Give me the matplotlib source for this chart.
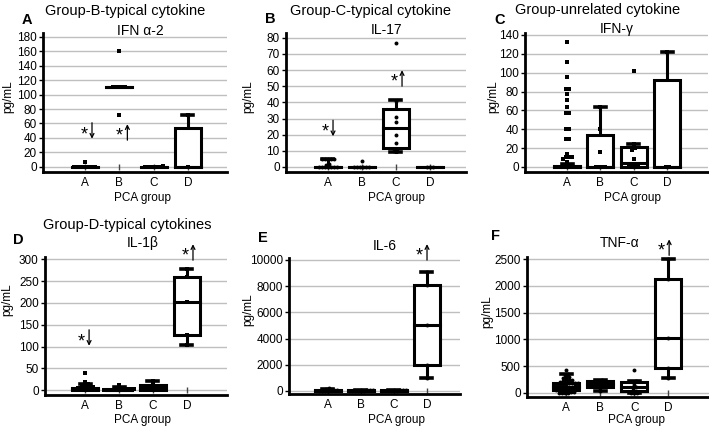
import matplotlib
matplotlib.use('Agg')
import matplotlib.pyplot as plt
from matplotlib.patches import Rectangle
import numpy as np

plt.rcParams['font.family'] = ['Liberation Sans', 'DejaVu Sans']

W, H = 709, 428

cats = ['A', 'B', 'C', 'D']

# box stats per PCA group: whisker low, Q1, median, Q3, whisker high
ifna2_box = [[0, 0, 0, 0, 0], [111, 111, 111, 111, 111], [0, 0, 0, 0, 0], [0, 0, 0, 54, 72]]
il17_box = [[0, 0, 0, 0, 5], [0, 0, 0, 0, 0], [9.5, 11.6, 24, 36, 41.5], [0, 0, 0, 0, 0]]
ifng_box = [[0, 0, 0, 1, 3], [0, 0, 0, 34, 64], [0, 0, 4.5, 21, 24], [0, 0, 0, 92, 122]]
il1b_box = [[0, 0, 2, 5, 15], [0, 0, 1, 3, 8], [0, 1, 6, 12, 21], [103, 127, 201, 260, 278]]
il6_box = [[0, 10, 30, 60, 150], [0, 5, 20, 40, 80], [0, 5, 15, 40, 80], [970, 1950, 5050, 8060, 9100]]
tnfa_box = [[10, 60, 120, 180, 350], [30, 110, 160, 230, 250], [0, 40, 110, 200, 230], [275, 460, 1020, 2120, 2495]]

# individual values per PCA group
ifna2_pts = [[0, 0, 0, 0, 0, 0, 0, 0, 7],
             [72, 111, 111, 111, 111, 111, 160],
             [0, 0, 0, 0, 0, 0, 1],
             [0, 72]]
il17_pts = [[0, 0, 0, 0, 0, 0, 0, 1, 2, 5, 5, 5, 5, 5],
            [0, 0, 0, 0, 0, 0, 4],
            [10, 10, 15, 20, 28, 31, 41, 77],
            [0, 0, 0]]
ifng_pts = [[0, 0, 0, 0, 0, 0, 0, 0, 3, 5, 8, 11, 11, 11, 14, 30, 30, 40, 40, 57, 57,
             64, 71, 77, 83, 83, 95, 111, 132],
            [0, 0, 0, 0, 16, 40, 64],
            [0, 0, 0, 0, 8, 18, 20, 24, 102],
            [0, 0, 122]]
il1b_pts = [[0, 0, 0, 0, 0, 0, 0, 0, 1, 6, 6, 7, 7, 7, 8, 13, 14, 14, 18, 39],
            [0, 0, 0, 0, 0, 0, 0, 1, 3, 3, 3, 13],
            [0, 0, 0, 0, 0, 2, 6, 9, 12, 21],
            [103, 127, 201, 260, 278]]
il6_pts = [[0, 0, 20, 30, 50, 80, 100, 150, 200],
           [0, 0, 5, 10, 20, 30, 40, 60, 80],
           [0, 0, 5, 10, 15, 30, 40, 60, 80],
           [970, 1950, 5050, 8060, 9100]]
tnfa_pts = [[0, 0, 0, 0, 10, 20, 50, 50, 60, 60, 60, 70, 70, 80, 100, 100, 110, 110, 120,
             120, 120, 130, 130, 160, 160, 170, 170, 170, 180, 180, 190, 190, 210, 220,
             230, 240, 250, 280, 290, 300, 340, 350, 430],
            [30, 110, 130, 160, 180, 230, 250],
            [0, 0, 0, 40, 90, 110, 150, 200, 230, 420],
            [275, 460, 1020, 2120, 2495]]

fig = plt.figure(figsize=(W / 100, H / 100), dpi=100)


def px_axes(left, top, right, bottom):
    return fig.add_axes([left / W, 1 - bottom / H, (right - left) / W, (bottom - top) / H])


def ftext(x, y, s, **kw):
    fig.text(x / W, 1 - y / H, s, **kw)


def swarm(values, px_y, px_x):
    # spread values that share a ~3 px row side by side
    vals = np.asarray(values, float)
    rows = np.round(vals * px_y / 3.0)
    offs = np.zeros(len(vals))
    for r in np.unique(rows):
        idx = np.where(rows == r)[0]
        offs[idx] = (np.arange(len(idx)) - (len(idx) - 1) / 2) * 3.0 / px_x
    return offs


def draw_panel(ax, box, pts, yticks, ylim, xlim, marker='o', sig=()):
    ax.set_xlim(*xlim)
    ax.set_ylim(*ylim)
    px_y = ax.bbox.height / (ylim[1] - ylim[0])
    px_x = ax.bbox.width / (xlim[1] - xlim[0])
    hw = 13 / px_x
    cw = 5.5 / px_x
    pos = np.arange(1, len(cats) + 1)
    ax.plot(pos, np.zeros(len(pos)), '|', ms=4, color='#444444', mew=1, zorder=2)
    for x, (lo, q1, med, q3, hi), vals in zip(pos, box, pts):
        ax.add_patch(Rectangle((x - hw, q1), 2 * hw, q3 - q1, facecolor='white',
                               edgecolor='black', lw=2.2, zorder=3))
        ax.plot([x - hw, x + hw], [med, med], color='black', lw=2.2, zorder=4)
        if hi > q3:
            ax.plot([x, x], [q3, hi], color='black', lw=2.2, zorder=2.5)
            ax.plot([x - cw, x + cw], [hi, hi], color='black', lw=2.6, zorder=2.5)
        if lo < q1:
            ax.plot([x, x], [lo, q1], color='black', lw=2.2, zorder=2.5)
            ax.plot([x - cw, x + cw], [lo, lo], color='black', lw=2.6, zorder=2.5)
        offs = swarm(vals, px_y, px_x)
        ax.scatter(x + offs, vals, s=10 if marker == 's' else 8, marker=marker,
                   color='black', linewidths=0, zorder=5)
    # significance: star plus a thin up/down arrow
    for x, y, d in sig:
        ax.text(x - 5 / px_x, y - 4 / px_y, '*', fontsize=13, ha='center', va='center',
                clip_on=False)
        y0, y1 = (y + 8 / px_y, y - 8 / px_y) if d == 'down' else (y - 8 / px_y, y + 8 / px_y)
        ax.annotate('', xy=(x + 3 / px_x, y1), xytext=(x + 3 / px_x, y0),
                    arrowprops=dict(arrowstyle='->', lw=0.9, color='black',
                                    shrinkA=0, shrinkB=0, mutation_scale=7),
                    annotation_clip=False)
    ax.set_yticks(yticks)
    ax.yaxis.grid(True, color='#bfbfbf', lw=1)
    ax.set_axisbelow(True)
    ax.set_xticks(pos, cats)
    ax.tick_params(axis='x', length=0, pad=3.5, labelsize=8.5)
    ax.tick_params(axis='y', length=3, width=1, pad=1.5, labelsize=8.5)
    for s in ['top', 'right']:
        ax.spines[s].set_visible(False)
    for s in ['left', 'bottom']:
        ax.spines[s].set_linewidth(2)


axA = px_axes(43, 33, 227, 172)
draw_panel(axA, ifna2_box, ifna2_pts, range(0, 181, 20), (-7, 185), (-0.22, 5.14), 's',
           sig=[(1.12, 50, 'down'), (2.15, 48, 'up')])
axB = px_axes(286, 33, 466, 172)
draw_panel(axB, il17_box, il17_pts, range(0, 81, 10), (-3.1, 83), (-0.235, 5.06), 'o',
           sig=[(1.06, 24, 'down'), (3.09, 55, 'up')])
axC = px_axes(525, 33, 708, 172)
draw_panel(axC, ifng_box, ifng_pts, range(0, 141, 20), (-5.3, 142), (-0.26, 5.23), 's')
axD = px_axes(45, 257, 227, 395)
draw_panel(axD, il1b_box, il1b_pts, range(0, 301, 50), (-11, 305), (-0.18, 5.18), 's',
           sig=[(1.03, 120, 'down'), (4.09, 316, 'up')])
axE = px_axes(289, 258, 460, 394)
draw_panel(axE, il6_box, il6_pts, range(0, 10001, 2000), (-230, 10150), (-0.18, 5.0), 'o',
           sig=[(3.91, 10600, 'up')])
axF = px_axes(527, 257, 709, 397)
draw_panel(axF, tnfa_box, tnfa_pts, range(0, 2501, 500), (-75, 2540), (-0.15, 5.2), 'o',
           sig=[(3.94, 2720, 'up')])

# group headings, panel letters, cytokine names
ftext(125, 11, 'Group-B-typical cytokine', fontsize=10.5, ha='center', va='center')
ftext(370, 11, 'Group-C-typical cytokine', fontsize=10.5, ha='center', va='center')
ftext(598, 10, 'Group-unrelated cytokine', fontsize=10.5, ha='center', va='center')
ftext(127, 225, 'Group-D-typical cytokines', fontsize=10.5, ha='center', va='center')

for x, y, s in [(27, 20, 'A'), (270, 19, 'B'), (500, 20, 'C'),
                (18, 240, 'D'), (263, 238, 'E'), (495, 236, 'F')]:
    ftext(x, y, s, fontsize=10.5, fontweight='bold', ha='center', va='center')

for x, y, s in [(140, 31, 'IFN α-2'), (387, 30, 'IL-17'), (617, 29, 'IFN-γ'),
                (143, 243, 'IL-1β'), (385, 246, 'IL-6'), (620, 243, 'TNF-α')]:
    ftext(x, y, s, fontsize=10, ha='center', va='center')

for x, y in [(8, 97), (248, 97), (493, 97), (7, 300), (248, 310), (487, 312)]:
    ftext(x, y, 'pg/mL', fontsize=8.5, rotation=90, ha='center', va='center')

for x, y in [(143, 198), (397, 198), (632, 198), (143, 420), (397, 420), (637, 420)]:
    ftext(x, y, 'PCA group', fontsize=8.5, ha='center', va='center')

fig.savefig('out.png', dpi=100)
